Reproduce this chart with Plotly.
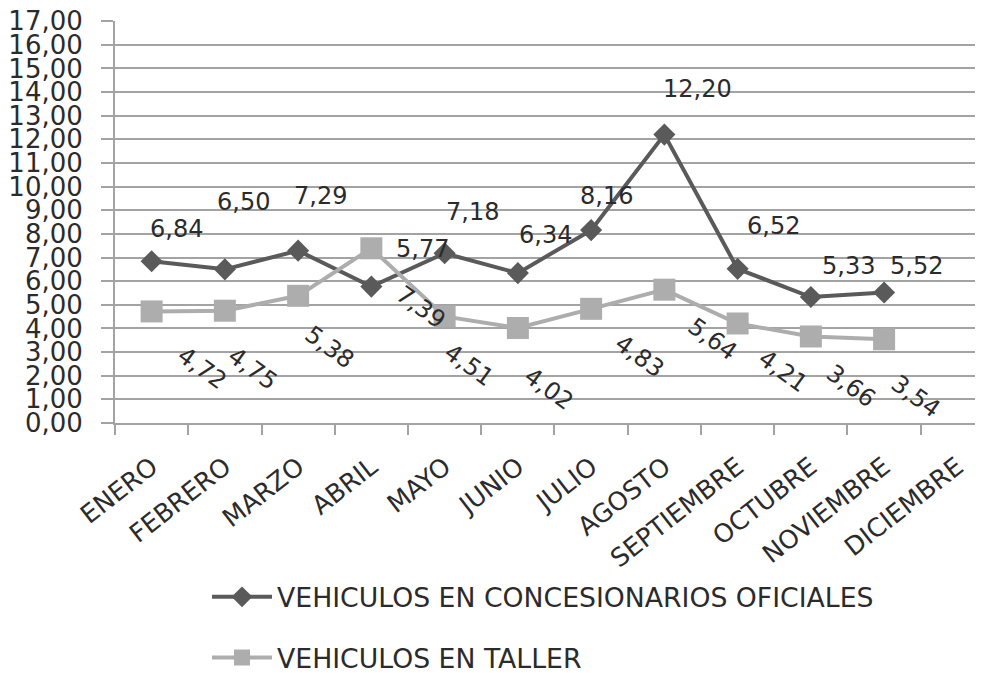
import plotly.graph_objects as go

meses = ['ENERO', 'FEBRERO', 'MARZO', 'ABRIL', 'MAYO', 'JUNIO', 'JULIO',
         'AGOSTO', 'SEPTIEMBRE', 'OCTUBRE', 'NOVIEMBRE', 'DICIEMBRE']
concesionarios = [6.84, 6.50, 7.29, 5.77, 7.18, 6.34, 8.16, 12.20, 6.52, 5.33, 5.52]
taller = [4.72, 4.75, 5.38, 7.39, 4.51, 4.02, 4.83, 5.64, 4.21, 3.66, 3.54]

nombre_conc = 'VEHICULOS EN CONCESIONARIOS OFICIALES'
nombre_taller = 'VEHICULOS EN TALLER'

# label offsets in px (hand placed in the original, like Excel does)
off_conc = [(25, 32), (19, 67), (22, 55), (51, 38), (28, 41), (28, 38),
            (15, 34), (33, 46), (36, 43), (38, 31), (32, 27)]
off_taller = [(50, -57), (28, -58), (31, -51), (49, -59), (24, -49), (31, -61),
              (48, -47), (48, -49), (45, -48), (40, -50), (31, -57)]

FONT = 'DejaVu Sans'
TXT = '#2b2b2b'
OSCURO = '#5a5a5a'
CLARO = '#adadad'
GRID = '#a3a3a3'


def fmt(v):
    return f'{v:.2f}'.replace('.', ',')


fig = go.Figure()
fig.add_trace(go.Scatter(
    x=meses[:len(concesionarios)], y=concesionarios, name=nombre_conc,
    mode='lines+markers', legendgroup='a',
    line=dict(color=OSCURO, width=4),
    marker=dict(symbol='diamond', size=17, color=OSCURO),
))
fig.add_trace(go.Scatter(
    x=meses[:len(taller)], y=taller, name=nombre_taller,
    mode='lines+markers', legendgroup='b',
    line=dict(color=CLARO, width=4),
    marker=dict(symbol='square', size=22, color=CLARO),
))

# invisible trace so the whole category list (incl. DICIEMBRE) is on the axis
fig.add_trace(go.Scatter(x=meses, y=[None] * len(meses), showlegend=False,
                         hoverinfo='skip'))

anns = []
for m, v, (dx, dy) in zip(meses, concesionarios, off_conc):
    anns.append(dict(x=m, y=v, xref='x', yref='y', text=fmt(v), showarrow=False,
                     xshift=dx, yshift=dy, font=dict(family=FONT, size=24, color=TXT)))
for m, v, (dx, dy) in zip(meses, taller, off_taller):
    anns.append(dict(x=m, y=v, xref='x', yref='y', text=fmt(v), showarrow=False,
                     xshift=dx, yshift=dy, textangle=36,
                     font=dict(family=FONT, size=24, color=TXT)))

# the page body adds 8px around the figure, so the figure is 8px smaller
fig.update_layout(
    width=975, height=665,
    margin=dict(l=107, r=0, t=13, b=250, autoexpand=False),
    paper_bgcolor='white', plot_bgcolor='white',
    separators=',.',
    font=dict(family=FONT, color=TXT),
    annotations=anns,
    legend=dict(
        x=0.106, y=-0.373, xanchor='left', yanchor='top',
        font=dict(family=FONT, size=26.7, color=TXT),
        tracegroupgap=23, itemwidth=60,
    ),
)
fig.update_xaxes(
    type='category', categoryorder='array', categoryarray=meses,
    range=[-0.5, 11.35],
    showgrid=False, showline=True, linecolor=GRID, linewidth=2,
    tickson='boundaries', ticks='outside', ticklen=10, tickcolor=GRID, tickwidth=2,
    tickangle=-38, tickfont=dict(family=FONT, size=25.5, color=TXT),
    ticklabelstandoff=17,
)
fig.update_yaxes(
    range=[0, 17.005], tickmode='linear', tick0=0, dtick=1, tickformat='.2f',
    showgrid=True, gridcolor=GRID, gridwidth=2,
    showline=True, linecolor=GRID, linewidth=2,
    ticks='outside', ticklen=12, tickcolor=GRID, tickwidth=2,
    tickfont=dict(family=FONT, size=26, color=TXT),
    ticklabelstandoff=13, ticklabeloverflow='allow', zeroline=False,
)

fig.write_html('out.html')
